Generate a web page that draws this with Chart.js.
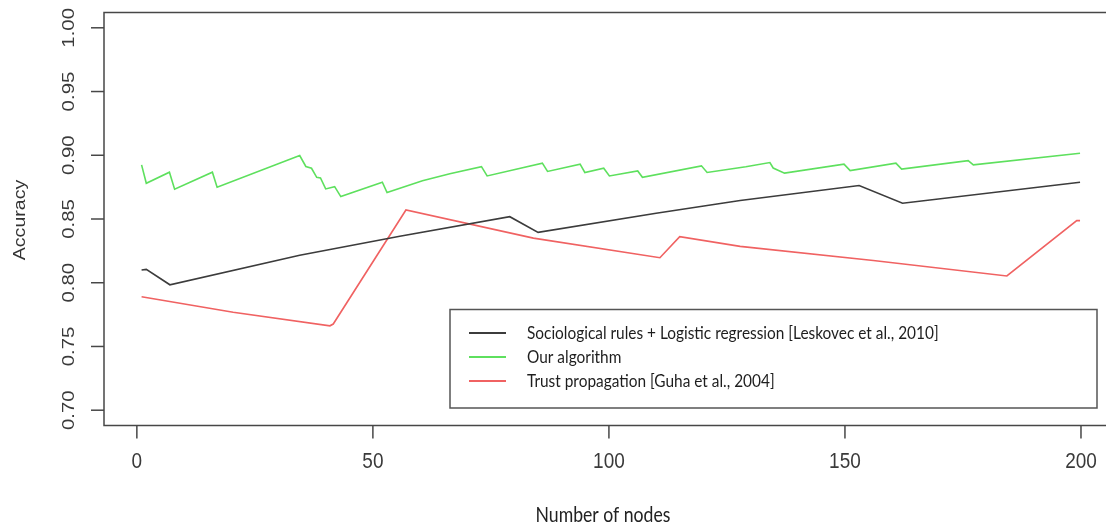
<!DOCTYPE html>
<html><head><meta charset="utf-8">
<script src="https://cdn.jsdelivr.net/npm/chart.js@4.4.1/dist/chart.umd.min.js"></script>
<style>html,body{margin:0;padding:0;background:#fff;overflow:hidden}canvas{display:block}</style>
</head><body><canvas id="c" width="1106" height="524"></canvas>
<script>
// ---- data ----
const seriesLabels = [
  'Sociological rules + Logistic regression [Leskovec et al., 2010]',
  'Our algorithm',
  'Trust propagation [Guha et al., 2004]'
];
const seriesColors = ['#3c3c3c', '#5ee05e', '#f06262'];

const sociologicalX = [1.0, 2.0, 7.0, 34.5, 55.7, 79.0, 85.0, 110.0, 127.8, 153.0, 162.2, 199.8];
const sociologicalY = [0.8100, 0.8105, 0.7984, 0.8215, 0.8365, 0.8518, 0.8395, 0.8545, 0.8645, 0.8763, 0.8624, 0.8788];

const ourX = [1.0, 2.0, 6.9, 8.0, 16.0, 17.0, 34.5, 35.8, 37.0, 38.1, 38.9, 40.0, 41.9, 43.2, 52.0, 53.0, 60.5, 66.3,
  73.0, 74.2, 85.9, 87.0, 93.9, 94.9, 98.9, 100.1, 106.1, 107.1, 119.6, 120.8, 129.0, 134.1, 134.8, 137.2,
  149.8, 151.1, 160.8, 162.0, 176.1, 177.2, 199.8];
const ourY = [0.8925, 0.8780, 0.8867, 0.8734, 0.8867, 0.8750, 0.8998, 0.8912, 0.8898, 0.8827, 0.8822, 0.8736, 0.8754, 0.8676, 0.8788, 0.8707, 0.8800, 0.8855,
  0.8911, 0.8838, 0.8938, 0.8873, 0.8930, 0.8865, 0.8898, 0.8838, 0.8877, 0.8827, 0.8917, 0.8865, 0.8910, 0.8943, 0.8900, 0.8860,
  0.8930, 0.8880, 0.8938, 0.8891, 0.8958, 0.8925, 0.9016];

const trustX = [1.0, 20.4, 40.9, 41.6, 57.0, 84.0, 110.8, 115.0, 127.8, 156.0, 184.3, 199.1, 199.8];
const trustY = [0.7890, 0.7768, 0.7662, 0.7676, 0.8571, 0.8350, 0.8196, 0.8362, 0.8285, 0.8175, 0.8053, 0.8487, 0.8487];

const xTicks = [0, 50, 100, 150, 200];
const xTickLabels = ['0', '50', '100', '150', '200'];
const yTicks = [0.70, 0.75, 0.80, 0.85, 0.90, 0.95, 1.00];
const yTickLabels = ['0.70', '0.75', '0.80', '0.85', '0.90', '0.95', '1.00'];
const xTitle = 'Number of nodes';
const yTitle = 'Accuracy';

function pts(xs, ys) { return xs.map((x, i) => ({ x: x, y: ys[i] })); }

const AXIS_FONT = '"Liberation Sans", Arial, sans-serif';
const LEGEND_FONT = 'Lato, "Open Sans", sans-serif';

function fitFont(ctx, text, family, targetW) {
  ctx.font = '20px ' + family;
  const w = ctx.measureText(text).width;
  return 20 * targetW / w;
}

const rStyle = {
  id: 'rStyle',
  afterDraw(chart) {
    const ctx = chart.ctx, a = chart.chartArea, xs = chart.scales.x, ys = chart.scales.y;
    ctx.save();
    // box
    ctx.strokeStyle = '#474747'; ctx.lineWidth = 1.5;
    ctx.beginPath();
    ctx.moveTo(chart.width, a.top); ctx.lineTo(a.left, a.top);
    ctx.lineTo(a.left, a.bottom); ctx.lineTo(chart.width, a.bottom);
    ctx.stroke();
    // y ticks
    ctx.fillStyle = '#3a3a3a';
    ctx.textAlign = 'center'; ctx.textBaseline = 'middle';
    yTicks.forEach((v, i) => {
      const py = ys.getPixelForValue(v);
      ctx.beginPath(); ctx.moveTo(a.left, py); ctx.lineTo(a.left - 13, py); ctx.stroke();
      ctx.save();
      ctx.translate(a.left - 35, py);
      ctx.rotate(-Math.PI / 2);
      ctx.scale(1.2, 1);
      ctx.font = '17px ' + AXIS_FONT;
      ctx.fillText(yTickLabels[i], 0, 0);
      ctx.restore();
    });
    // x ticks
    xTicks.forEach((v, i) => {
      const px = xs.getPixelForValue(v);
      ctx.beginPath(); ctx.moveTo(px, a.bottom); ctx.lineTo(px, a.bottom + 13); ctx.stroke();
      ctx.save();
      ctx.translate(px, a.bottom + 36);
      ctx.scale(1, 1.18);
      ctx.font = '19px ' + AXIS_FONT;
      ctx.fillText(xTickLabels[i], 0, 0);
      ctx.restore();
    });
    // y title
    ctx.save();
    ctx.translate(20, (a.top + a.bottom) / 2 + 1);
    ctx.rotate(-Math.PI / 2);
    ctx.scale(1.15, 1);
    ctx.font = '17px ' + AXIS_FONT;
    ctx.fillStyle = '#333';
    ctx.fillText(yTitle, 0, 0);
    ctx.restore();
    // x title
    ctx.save();
    const xs2 = fitFont(ctx, xTitle, LEGEND_FONT, 135);
    ctx.translate(603, 515);
    ctx.scale(1, 1.2);
    ctx.font = xs2.toFixed(2) + 'px ' + LEGEND_FONT;
    ctx.fillStyle = '#222';
    ctx.fillText(xTitle, 0, 0);
    ctx.restore();

    // legend
    const bx = 450, by = 309.5, bw = 647, bh = 98.5;
    ctx.fillStyle = '#fff';
    ctx.fillRect(bx, by, bw, bh);
    ctx.strokeStyle = '#555'; ctx.lineWidth = 1.5;
    ctx.strokeRect(bx, by, bw, bh);
    const ls = fitFont(ctx, seriesLabels[0], LEGEND_FONT, 412);
    const rows = [333, 357, 381];
    chart.data.datasets.forEach((ds, i) => {
      const y = rows[i];
      ctx.strokeStyle = ds.borderColor; ctx.lineWidth = 2;
      ctx.beginPath(); ctx.moveTo(469, y); ctx.lineTo(506, y); ctx.stroke();
      ctx.save();
      ctx.translate(527, y);
      ctx.scale(1, 1.15);
      ctx.font = ls.toFixed(2) + 'px ' + LEGEND_FONT;
      ctx.fillStyle = '#1e1e1e';
      ctx.textAlign = 'left'; ctx.textBaseline = 'middle';
      ctx.fillText(ds.label, 0, 0);
      ctx.restore();
    });
    ctx.restore();
  }
};

const makeDs = (i, xs, ys) => ({
  label: seriesLabels[i], data: pts(xs, ys), borderColor: seriesColors[i],
  borderWidth: 1.6, pointRadius: 0, tension: 0, fill: false
});

new Chart(document.getElementById('c'), {
  type: 'line',
  data: {
    datasets: [
      makeDs(0, sociologicalX, sociologicalY),
      makeDs(1, ourX, ourY),
      makeDs(2, trustX, trustY)
    ]
  },
  options: {
    responsive: false, animation: false, devicePixelRatio: 1,
    layout: { padding: { left: 104, top: 12.5, right: 0, bottom: 98.5 } },
    plugins: { legend: { display: false }, tooltip: { enabled: false } },
    scales: {
      x: { type: 'linear', min: -6.96, max: 205.3, display: false },
      y: { type: 'linear', min: 0.688, max: 1.012, display: false }
    }
  },
  plugins: [rStyle]
});
</script>
</body></html>
